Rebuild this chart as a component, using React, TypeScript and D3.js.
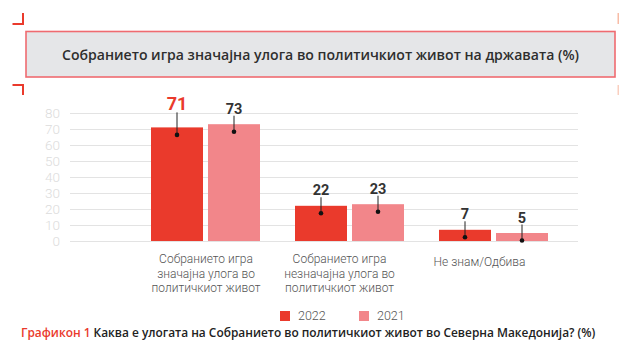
import React from "react";
import * as d3 from "d3";

const categories = [
  ["Собранието игра", "значајна улога во", "политичкиот живот"],
  ["Собранието игра", "незначајна улога во", "политичкиот живот"],
  ["Не знам/Одбива"],
];
const seriesNames = ["2022", "2021"];
const values2022 = [71, 22, 7];
const values2021 = [73, 23, 5];
const yTicks = [0, 10, 20, 30, 40, 50, 60, 70, 80];
const titleText = "Собранието игра значајна улога во политичкиот живот на државата (%)";
const captionLead = "Графикон 1";
const captionText = " Каква е улогата на Собранието во политичкиот живот во Северна Македонија? (%)";

const W = 619;
const H = 343;
const RED = "#ea3a2c";
const PINK = "#f2868a";
const colors: Record<string, string> = { "2022": RED, "2021": PINK };
const labelNudge = [
  { dx: 0.5, dy: 0 },
  { dx: -10, dy: 0 },
  { dx: -14, dy: 3 },
];

export default function App() {
  const keys = categories.map((c) => c.join(" "));
  const y = d3.scaleLinear().domain([0, 80]).range([241, 113]);
  const x0 = d3
    .scaleBand<string>()
    .domain(keys)
    .range([133.5, 565.5])
    .paddingInner(35 / 144)
    .paddingOuter(35 / 288);
  const x1 = d3
    .scaleBand<string>()
    .domain(seriesNames)
    .range([0, x0.bandwidth()])
    .paddingInner(5 / 57)
    .paddingOuter(0);
  const seriesValues: Record<string, number[]> = { "2022": values2022, "2021": values2021 };

  return (
    <svg
      width={W}
      height={H}
      style={{ position: "absolute", left: 0, top: 0, background: "#fff" }}
    >
      {/* corner marks */}
      <path d="M12.5,24 H23 V13" fill="none" stroke={RED} strokeWidth={2} />
      <path d="M12.5,85 H23 V95" fill="none" stroke={RED} strokeWidth={2} />
      <path d="M618.5,13 V24" fill="none" stroke="#f5a080" strokeWidth={2} opacity={0.7} />
      <path d="M618.5,85 V95" fill="none" stroke="#f5a080" strokeWidth={2} opacity={0.5} />

      {/* title box */}
      <rect x={26} y={31.5} width={589} height={45.5} fill="#e5e6e8" stroke="#ef6b70" strokeWidth={1.6} />
      <text
        x={320.5}
        y={59.5}
        textAnchor="middle"
        fontFamily="'Open Sans', 'Noto Sans', sans-serif"
        fontWeight={600}
        fontSize={15}
        fill="#2e2e2e"
        textLength={517}
        lengthAdjust="spacingAndGlyphs"
      >
        {titleText}
      </text>

      {/* gridlines and y labels */}
      {yTicks.map((t) => (
        <g key={t}>
          <line x1={70} x2={578} y1={Math.round(y(t)) + 0.5} y2={Math.round(y(t)) + 0.5} stroke="#e3e3e3" strokeWidth={1} />
          <text
            x={60}
            y={y(t) + 5}
            textAnchor="end"
            fontFamily="Roboto, sans-serif"
            fontWeight={300}
            fontSize={13.5}
            fill="#dcdcdc"
          >
            {t}
          </text>
        </g>
      ))}

      {/* bars */}
      {keys.map((k, i) => (
        <g key={k} transform={`translate(${x0(k)},0)`}>
          {seriesNames.map((s) => {
            const v = seriesValues[s][i];
            const bx = x1(s)!;
            const bw = x1.bandwidth();
            const top = y(v);
            const cx = bx + bw / 2;
            const big = s === "2022" && i === 0;
            const labelY = big ? top - 17 : top - 10.5;
            return (
              <g key={s}>
                <rect x={bx} y={top} width={bw} height={y(0) - top} fill={colors[s]} />
                <line x1={cx} x2={cx} y1={labelY + 2} y2={top + 7.5} stroke="#222" strokeWidth={1} />
                <circle cx={cx} cy={top + 7.5} r={2.3} fill="#111" />
                <text
                  x={cx}
                  y={labelY}
                  textAnchor="middle"
                  fontFamily="Roboto, sans-serif"
                  fontWeight={700}
                  fontSize={big ? 18 : 14.5}
                  fill={big ? RED : "#333"}
                >
                  {v}
                </text>
              </g>
            );
          })}
        </g>
      ))}

      {/* category labels */}
      {categories.map((lines, i) => {
        const cx = x0(keys[i])! + x0.bandwidth() / 2 + labelNudge[i].dx;
        return (
          <text
            key={i}
            textAnchor="middle"
            fontFamily="Roboto, sans-serif"
            fontWeight={300}
            fontSize={12}
            fill="#555"
          >
            {lines.map((ln, j) => (
              <tspan key={j} x={cx} y={263 + labelNudge[i].dy + j * 14.5}>
                {ln}
              </tspan>
            ))}
          </text>
        );
      })}

      {/* legend */}
      {seriesNames.map((s, i) => {
        const lx = 280 + i * 79;
        return (
          <g key={s}>
            <rect x={lx} y={311} width={10} height={10} fill={colors[s]} />
            <text x={lx + 18} y={320} fontFamily="Roboto, sans-serif" fontWeight={300} fontSize={12.5} fill="#555">
              {s}
            </text>
          </g>
        );
      })}

      {/* caption */}
      <text
        x={21}
        y={336.5}
        fontFamily="'Open Sans', 'Noto Sans', sans-serif"
        fontWeight={600}
        fontSize={11.9}
        fill="#222"
      >
        <tspan fill={RED}>{captionLead}</tspan>
        {captionText}
      </text>
    </svg>
  );
}
